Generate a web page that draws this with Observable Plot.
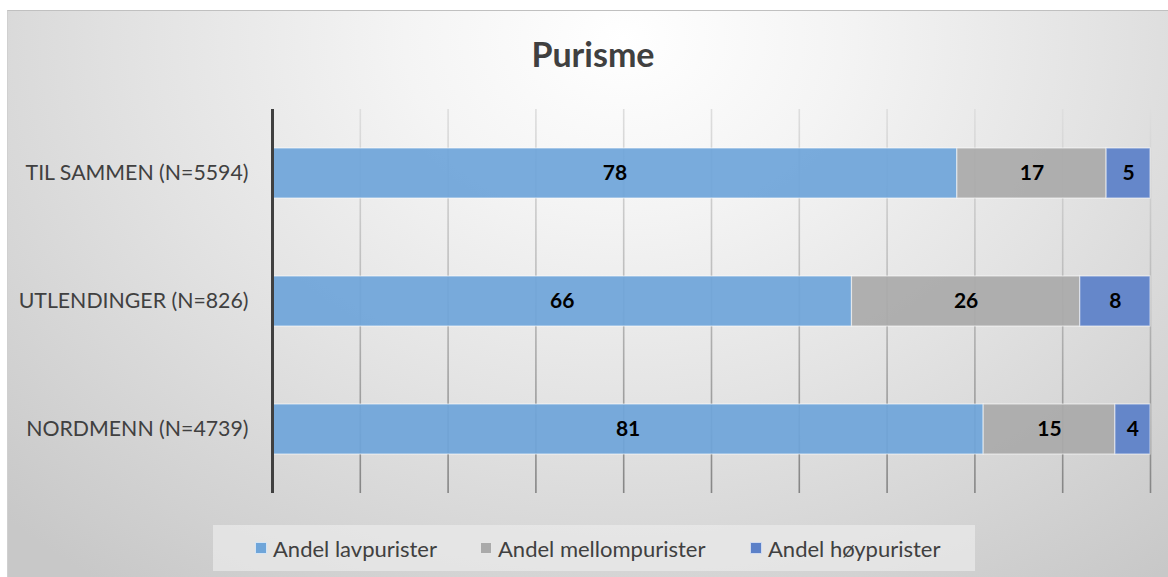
<!DOCTYPE html>
<html>
<head>
<meta charset="utf-8">
<script src="https://cdn.jsdelivr.net/npm/d3@7"></script>
<script src="https://cdn.jsdelivr.net/npm/@observablehq/plot@0.6"></script>
<style>
  html, body { margin: 0; padding: 0; background: #fff; }
  #wrap { position: relative; width: 1168px; height: 577px; overflow: hidden; font-family: Lato, "Open Sans", sans-serif; }
  #bg { position: absolute; left: 7px; top: 10px; width: 1161px; height: 567px;
        border-top: 1px solid #c0c0c0; border-left: 1px solid #d0d0d0; box-sizing: border-box;
        background: radial-gradient(ellipse 75% 120% at 53% 5%, #ffffff 0%, #f4f4f4 25%, #e3e3e3 55%, #d4d4d4 80%, #c8c8c8 100%); }
  #title { position: absolute; left: 0; width: 1186px; top: 32px; text-align: center; font-weight: bold; font-size: 34px; color: #404040; line-height: 44px; }
  #chart { position: absolute; left: 0; top: 0; }
  #legend { position: absolute; left: 213px; top: 525px; width: 762px; height: 46px; background: rgba(235,235,235,0.7);
            font-size: 22px; color: #404040; }
  .item { position: absolute; top: 0; height: 46px; display: flex; align-items: center; white-space: nowrap; }
  .sw { width: 12px; height: 12px; margin-right: 6px; border: 1px solid rgba(255,255,255,0.7); box-sizing: border-box; }
</style>
</head>
<body>
<div id="wrap">
  <div id="bg"></div>
  <div id="title">Purisme</div>
  <div id="chart"></div>
  <div id="legend"></div>
</div>
<script>
const groups = ["TIL SAMMEN (N=5594)", "UTLENDINGER (N=826)", "NORDMENN (N=4739)"];
const seriesNames = ["Andel lavpurister", "Andel mellompurister", "Andel høypurister"];
const seriesColors = ["#6fa5d9", "#aaaaaa", "#5b80c8"];
const lavpurister = [78, 66, 81];
const mellompurister = [17, 26, 15];
const hoypurister = [5, 8, 4];
const xTicks = [0, 10, 20, 30, 40, 50, 60, 70, 80, 90, 100];

const seriesValues = [lavpurister, mellompurister, hoypurister];
const data = [];
groups.forEach((g, i) => {
  seriesNames.forEach((s, j) => data.push({group: g, series: s, value: seriesValues[j][i]}));
});

const plot = Plot.plot({
  width: 1168,
  height: 577,
  marginLeft: 272,
  marginRight: 18,
  marginTop: 109,
  marginBottom: 84,
  style: {background: "transparent", fontFamily: "Lato, 'Open Sans', sans-serif", overflow: "visible"},
  x: {domain: [0, 100], axis: null},
  y: {domain: groups, paddingInner: 0.61, paddingOuter: 0.305, label: null},
  color: {domain: seriesNames, range: seriesColors},
  marks: [
    Plot.ruleX(xTicks.slice(1), {stroke: "url(#gridGrad)", strokeWidth: 1.6}),
    Plot.barX(data, Plot.stackX({x: "value", y: "group", fill: "series", order: seriesNames,
      fillOpacity: 0.93, stroke: "#ffffff", strokeOpacity: 0.55, strokeWidth: 1.2})),
    Plot.text(data, Plot.stackX({x: "value", y: "group", z: "series", order: seriesNames, text: d => String(d.value),
      fill: "#000", fontWeight: "bold", fontSize: 21})),
    Plot.ruleX([0], {stroke: "#404040", strokeWidth: 3}),
    Plot.axisY({tickSize: 0, tickPadding: 24, fontSize: 21.3, fill: "#404040", label: null})
  ]
});

// gradient for gridlines
const ns = "http://www.w3.org/2000/svg";
const defs = document.createElementNS(ns, "defs");
const lg = document.createElementNS(ns, "linearGradient");
lg.setAttribute("id", "gridGrad");
lg.setAttribute("gradientUnits", "userSpaceOnUse");
lg.setAttribute("x1", "0"); lg.setAttribute("x2", "0");
lg.setAttribute("y1", "109"); lg.setAttribute("y2", "493");
[["0%", "#dedede"], ["50%", "#b8b8b8"], ["100%", "#858585"]].forEach(([o, c]) => {
  const st = document.createElementNS(ns, "stop");
  st.setAttribute("offset", o); st.setAttribute("stop-color", c);
  lg.appendChild(st);
});
defs.appendChild(lg);
plot.insertBefore(defs, plot.firstChild);

document.getElementById("chart").appendChild(plot);

// legend
const legend = document.getElementById("legend");
const legendX = [42, 267, 537];
seriesNames.forEach((s, i) => {
  const it = document.createElement("div");
  it.className = "item";
  it.style.left = legendX[i] + "px";
  const sw = document.createElement("span");
  sw.className = "sw";
  sw.style.background = seriesColors[i];
  const tx = document.createElement("span");
  tx.textContent = s;
  it.appendChild(sw); it.appendChild(tx);
  legend.appendChild(it);
});
</script>
</body>
</html>
